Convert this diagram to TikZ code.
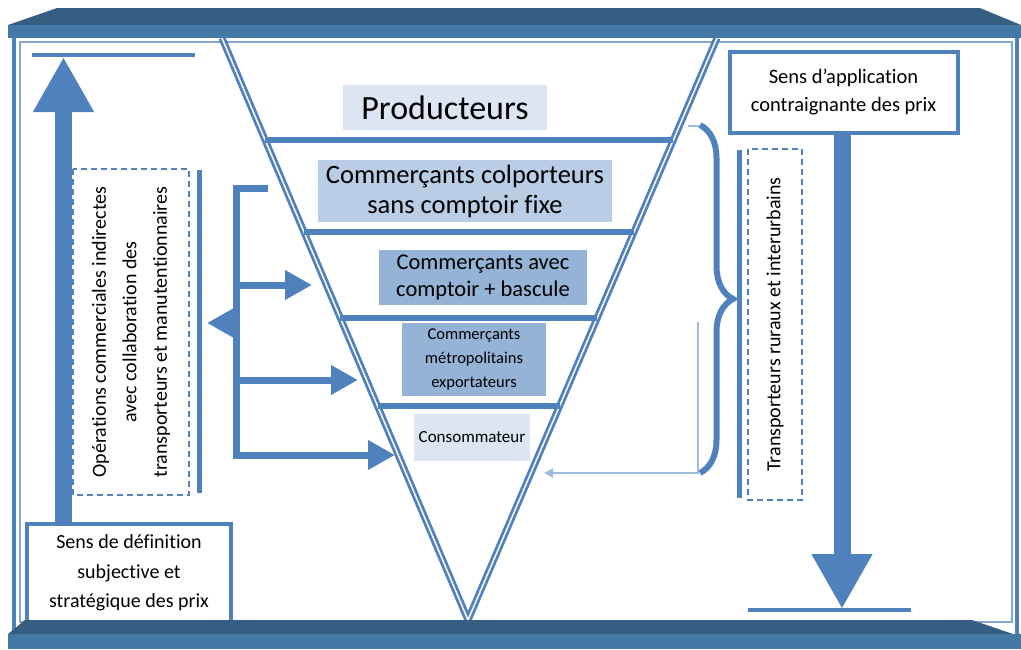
\documentclass[tikz,border=0pt]{standalone}
\usepackage{fontspec}
\setmainfont{Carlito}[Ligatures=NoCommon]
\usepackage{tikz}
\usetikzlibrary{arrows.meta, positioning, calc, decorations.pathreplacing}

\definecolor{mainblue}{HTML}{4F81BD}
\definecolor{banddark}{HTML}{365E82}
\definecolor{bandlight}{HTML}{4479A6}
\definecolor{lvlpale}{HTML}{DCE6F2}
\definecolor{lvlmid}{HTML}{B9CDE5}
\definecolor{lvldeep}{HTML}{95B3D7}
\definecolor{thinblue}{HTML}{9DBBDF}

\newcommand{\fs}[2]{\fontsize{#1}{#2}\selectfont}

\begin{document}
\begin{tikzpicture}[x=1pt, y=-1pt,
    level/.style={inner sep=0pt, align=center},
    framebox/.style={draw=mainblue, line width=4pt, fill=white, align=center, inner sep=0pt, font=\fs{20}{29.5}},
    dashbox/.style={draw=mainblue, line width=1.2pt, dash pattern=on 6pt off 4pt, rotate=90, align=center, inner sep=0pt},
    bigarrow/.style={mainblue, line width=17pt, -{Triangle[width=57pt, length=55pt]}},
    brkarrow/.style={mainblue, line width=7pt, line join=miter, -{Triangle[width=28pt, length=27pt]}},
    sepline/.style={mainblue, line width=6.5pt},
    sidebar/.style={mainblue, line width=5pt},
    stopbar/.style={mainblue, line width=4pt},
    funnel/.style={mainblue, line width=2.8pt, double=white, double distance=1.5pt},
    thinarrow/.style={thinblue, line width=1.5pt, -{Triangle[width=9pt, length=9pt]}}]
  \useasboundingbox (0,0) rectangle (1021,649);

  % frame
  \draw[mainblue, line width=4pt] (14,30) -- (14,640);
  \draw[mainblue, line width=4pt] (1017,30) -- (1017,640);
  \draw[mainblue!70, line width=1.2pt] (20,42) rectangle (1012,622);

  % funnel
  \coordinate (tl) at (222,38);
  \coordinate (ap) at (468,620);
  \coordinate (tr) at (717,38);
  \draw[funnel] (tl) -- (ap) -- (tr);
  \foreach \yy in {140,232,318,406}
    \draw[sepline] ($(tl)!{(\yy-38)/582}!(ap)$) -- ($(tr)!{(\yy-38)/582}!(ap)$);

  % levels
  \node[level, fill=lvlpale, minimum width=204pt, minimum height=45pt, font=\fs{34}{40}] (prod) at (445,107.5) {Producteurs};
  \node[level, fill=lvlmid, minimum width=294pt, minimum height=62pt, font=\fs{26.5}{30}] (colp) at (465,191) {Commerçants colporteurs\\sans comptoir fixe};
  \node[level, fill=lvldeep, minimum width=208pt, minimum height=55pt, font=\fs{22.5}{27}] (comp) at (483,277.5) {Commerçants avec\\comptoir + bascule};
  \node[level, fill=lvldeep, minimum width=144pt, minimum height=73pt, font=\fs{16.5}{24}] (metro) at (474,359.5) {Commerçants\\métropolitains\\exportateurs};
  \node[level, fill=lvlpale, minimum width=116pt, minimum height=47pt, font=\fs{17}{20}] (cons) at (472,437.5) {Consommateur};

  % side boxes
  \node[framebox, minimum width=204pt, minimum height=98pt] (defbox) at (129,573) {Sens de définition\\subjective et\\stratégique des prix};
  \node[framebox, minimum width=228pt, minimum height=81pt, font=\fs{20.5}{28}] (appbox) at (843.5,92) {Sens d’application\\contraignante des prix};
  \node[dashbox, minimum width=326pt, minimum height=116pt, font=\fs{20}{30.5}] (opbox) at (131,332) {Opérations commerciales indirectes\\avec collaboration des\\transporteurs et manutentionnaires};
  \node[dashbox, minimum width=351pt, minimum height=54pt, font=\fs{20}{24}] (trbox) at (775,324.5) {Transporteurs ruraux et interurbains};
  \draw[sidebar] (199,170) -- (199,493);
  \draw[sidebar] (739,150) -- (739,498);

  % price arrows
  \coordinate (uptip) at (63.5,57);
  \draw[bigarrow] (defbox.north -| uptip) -- (uptip);
  \draw[stopbar] (32,55) -- (195,55);
  \coordinate (downtip) at (842,609);
  \draw[bigarrow] (appbox.south -| downtip) -- (downtip);
  \draw[stopbar] (748,610) -- (911,610);

  % indirect operations
  \coordinate (brtop) at (268,188);
  \draw[brkarrow] (brtop) -- (236,188) -- (236,455) -- (395,455);
  \draw[brkarrow] (236,285) -- (312,285);
  \draw[brkarrow] (236,380) -- (358,380);
  \draw[brkarrow] (236,323) -- (207,323);

  % transporters
  \draw[mainblue, line width=6pt, decorate, decoration={brace, amplitude=33pt}] (700,125) -- (700,473);
  \draw[thinblue, line width=1.5pt] (688,126) -- (700,126);
  \draw[thinarrow] (698,322) -- (698,473) -- (544,473);

  % bands
  \fill[banddark] (8,25) -- (57,8) -- (980,8) -- (1021,25) -- cycle;
  \fill[bandlight] (8,25) rectangle (1021,38);
  \fill[banddark] (8,634) -- (25,620) -- (972,620) -- (1013,634) -- cycle;
  \fill[bandlight] (8,634) rectangle (1021,649);
\end{tikzpicture}
\end{document}
